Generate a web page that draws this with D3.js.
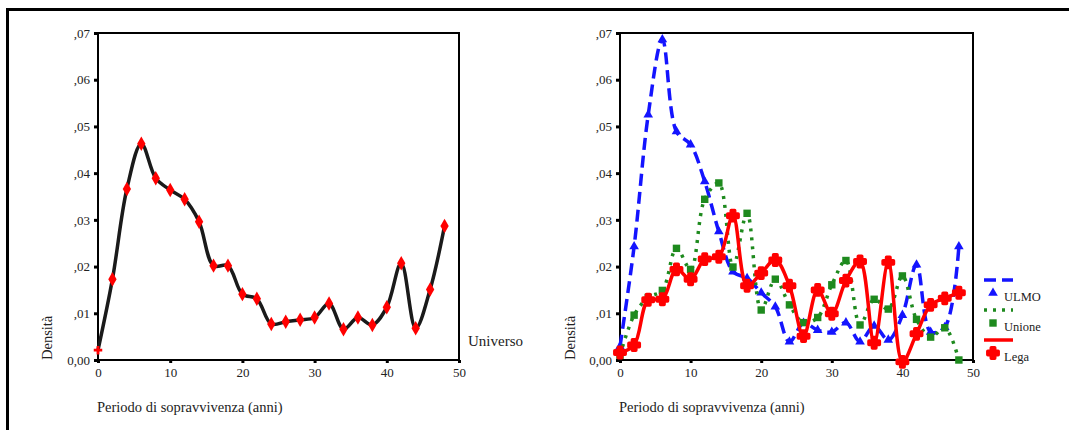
<!DOCTYPE html>
<html>
<head>
<meta charset="utf-8">
<script src="https://cdn.jsdelivr.net/npm/d3@7"></script>
<style>
  body { margin: 0; background: #fff; }
  svg text { font-family: "Liberation Serif", "Times New Roman", serif; fill: #222; }
</style>
</head>
<body>
<div id="chart"></div>
<script>
const width = 1069;
const height = 430;

// survival period (years) at which each density is estimated
const years = [0, 2, 4, 6, 8, 10, 12, 14, 16, 18, 20, 22, 24, 26, 28, 30, 32, 34, 36, 38, 40, 42, 44, 46, 48];

const universo = [0.0021, 0.0173, 0.0366, 0.0463, 0.0389, 0.0364, 0.0344, 0.0296, 0.0202, 0.0202, 0.0141, 0.0131,
  0.0077, 0.0082, 0.0086, 0.0091, 0.0121, 0.0066, 0.0091, 0.0075, 0.0113, 0.0207, 0.0068, 0.0151, 0.0287];

const ulmo = [0.0029, 0.0243, 0.0525, 0.0686, 0.0489, 0.0461, 0.0382, 0.0275, 0.0189, 0.0175, 0.0144, 0.0114,
  0.0039, 0.0079, 0.0064, 0.0060, 0.0080, 0.0039, 0.0073, 0.0043, 0.0096, 0.0204, 0.0060, 0.0070, 0.0243];

const unione = [0.0010, 0.0096, 0.0134, 0.0149, 0.0239, 0.0194, 0.0344, 0.0379, 0.0199, 0.0314, 0.0107, 0.0173,
  0.0118, 0.0080, 0.0091, 0.0161, 0.0213, 0.0075, 0.0130, 0.0109, 0.0180, 0.0087, 0.0049, 0.0069, 0.0000];

const lega = [0.0016, 0.0032, 0.0129, 0.0130, 0.0194, 0.0173, 0.0216, 0.0221, 0.0309, 0.0159, 0.0186, 0.0214,
  0.0159, 0.0051, 0.0150, 0.0099, 0.0170, 0.0211, 0.0037, 0.0209, -0.0004, 0.0056, 0.0118, 0.0132, 0.0144];

const xTicks = [0, 10, 20, 30, 40, 50];
const yTicks = [0, 0.01, 0.02, 0.03, 0.04, 0.05, 0.06, 0.07];
const yTickLabels = ["0,00", ",01", ",02", ",03", ",04", ",05", ",06", ",07"];

const seriesNames = ["ULMO", "Unione", "Lega"];

const svg = d3.select("#chart")
  .append("svg")
  .attr("width", width)
  .attr("height", height);

// outer frame (top and left only)
svg.append("rect").attr("x", 6).attr("y", 8).attr("width", width - 6).attr("height", 3).attr("fill", "#000");
svg.append("rect").attr("x", 6).attr("y", 8).attr("width", 3).attr("height", height - 8).attr("fill", "#000");

function drawPanel(x0, x1, yLabelX) {
  const x = d3.scaleLinear().domain([0, 50]).range([x0, x1]);
  const y = d3.scaleLinear().domain([0, 0.07]).range([360, 33]);
  const g = svg.append("g");

  const yAxis = g.append("g")
    .attr("transform", `translate(${x0},0)`)
    .call(d3.axisLeft(y).tickValues(yTicks).tickSize(4).tickPadding(4)
      .tickFormat((d, i) => yTickLabels[i]));
  const xAxis = g.append("g")
    .attr("transform", "translate(0,360)")
    .call(d3.axisBottom(x).tickValues(xTicks).tickSize(3).tickPadding(5));

  [yAxis, xAxis].forEach(a => {
    a.select(".domain").remove();
    a.selectAll(".tick line").attr("stroke", "#000").attr("stroke-width", 3);
    a.selectAll(".tick text").attr("font-size", 13).attr("font-family", "Liberation Serif").attr("fill", "#222");
  });

  g.append("rect")
    .attr("x", x0).attr("y", 33)
    .attr("width", x1 - x0).attr("height", 327)
    .attr("fill", "none").attr("stroke", "#000").attr("stroke-width", 2);

  g.append("text")
    .attr("transform", `translate(${yLabelX},360) rotate(-90)`)
    .attr("font-size", 14.5)
    .text("Densità");

  g.append("text")
    .attr("x", x0 - 1).attr("y", 412)
    .attr("font-size", 14.5)
    .text("Periodo di sopravvivenza (anni)");

  return { g, x, y };
}

const line = (x, y) => d3.line()
  .x((d, i) => x(years[i]))
  .y(d => y(d))
  .curve(d3.curveCatmullRom.alpha(0.5));

// left panel: whole sample
const left = drawPanel(98, 459, 52);
left.g.append("path")
  .datum(universo)
  .attr("d", line(left.x, left.y))
  .attr("fill", "none")
  .attr("stroke", "#1a1a1a")
  .attr("stroke-width", 3.5);

left.g.selectAll(".uni-pt")
  .data(universo)
  .enter()
  .append("path")
  .attr("class", "uni-pt")
  .attr("transform", (d, i) => `translate(${left.x(years[i])},${left.y(d)})`)
  .attr("d", (d, i) => d3.symbol().type(i === 0 ? d3.symbolCross : d3.symbolDiamond).size(i === 0 ? 40 : 60)())
  .attr("fill", "#ff0000");

left.g.append("text")
  .attr("x", 468).attr("y", 346)
  .attr("font-size", 15)
  .text("Universo");

// right panel: by party
const right = drawPanel(620, 973, 575);

const styles = [
  { data: ulmo, color: "#1414ff", dash: "12,6", width: 3.5, symbol: d3.symbolTriangle, size: 40 },
  { data: unione, color: "#1e8a1e", dash: "3,6", width: 3.5, symbol: d3.symbolSquare, size: 55 },
  { data: lega, color: "#ff0000", dash: null, width: 3.5, symbol: d3.symbolCross, size: 60 }
];

styles.forEach(s => {
  right.g.append("path")
    .datum(s.data)
    .attr("d", line(right.x, right.y))
    .attr("fill", "none")
    .attr("stroke", s.color)
    .attr("stroke-width", s.width)
    .attr("stroke-dasharray", s.dash);

  right.g.selectAll(null)
    .data(s.data)
    .enter()
    .append("path")
    .attr("transform", (d, i) => `translate(${right.x(years[i])},${right.y(d)})`)
    .attr("d", d3.symbol().type(s.symbol).size(s.size)())
    .attr("fill", s.color)
    .attr("stroke", s.symbol === d3.symbolCross ? s.color : "none")
    .attr("stroke-width", 3.5)
    .attr("stroke-linejoin", "round");
});

// legend
const legend = svg.append("g").attr("transform", "translate(984,280)");
styles.forEach((s, i) => {
  const row = legend.append("g").attr("transform", `translate(0,${i * 30})`);
  row.append("line")
    .attr("x1", 0).attr("x2", 29)
    .attr("y1", 0).attr("y2", 0)
    .attr("stroke", s.color)
    .attr("stroke-width", 3.5)
    .attr("stroke-dasharray", s.dash);
  row.append("path")
    .attr("transform", "translate(9,13)")
    .attr("d", d3.symbol().type(s.symbol).size(s.size)())
    .attr("fill", s.color)
    .attr("stroke", s.symbol === d3.symbolCross ? s.color : "none")
    .attr("stroke-width", 3.5)
    .attr("stroke-linejoin", "round");
  row.append("text")
    .attr("x", 20).attr("y", 21)
    .attr("font-size", 12.5)
    .text(seriesNames[i]);
});
</script>
</body>
</html>
